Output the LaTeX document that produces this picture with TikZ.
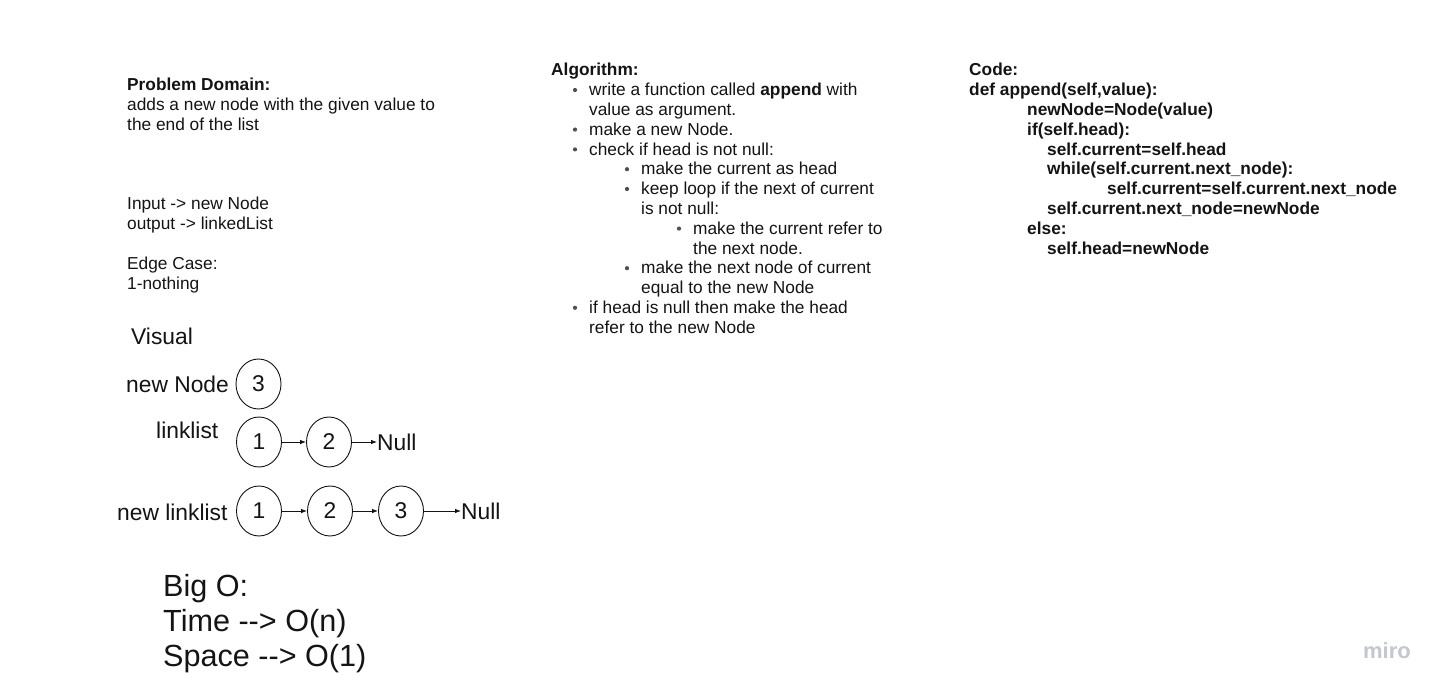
\documentclass[tikz,border=0pt]{standalone}
\usepackage{fontspec}
\setmainfont{Liberation Sans}
\usetikzlibrary{shapes.geometric,arrows.meta}
\definecolor{ink}{rgb}{0.08,0.08,0.08}
\definecolor{mirogray}{RGB}{196,198,208}
\tikzset{
  txt/.style={inner sep=0pt, anchor=base west, text=ink, font=\fontsize{17.3}{19.8}\selectfont},
  btxt/.style={txt, font=\fontsize{17.3}{19.8}\selectfont\bfseries},
  bigtxt/.style={inner sep=0pt, anchor=base west, text=ink, font=\fontsize{22.8}{26}\selectfont},
  hugetxt/.style={inner sep=0pt, anchor=base west, text=ink, font=\fontsize{30.6}{35}\selectfont},
  circ/.style={ellipse, draw=ink, line width=0.9pt, minimum width=45pt, minimum height=50pt, inner sep=0pt, text=ink, font=\fontsize{22.8}{26}\selectfont},
  nulltxt/.style={inner sep=0pt, anchor=west, text=ink, font=\fontsize{22.8}{26}\selectfont},
  arr/.style={draw=ink, line width=0.8pt, -{Latex[length=6pt,width=4.5pt]}},
  bul/.style={circle, fill=ink!75, draw=none, inner sep=0pt, minimum size=4.2pt, yshift=5.8pt}
}
\begin{document}
\begin{tikzpicture}[x=1pt,y=-1pt]
\useasboundingbox (0,0) rectangle (1443,692);
\fill[white] (0,0) rectangle (1443,692);

% Problem domain
\node[btxt] (pd) at (127,91) {Problem Domain:};
\node[txt] (pd1) at (127,111) {adds a new node with the given value to};
\node[txt] (pd2) at (127,131) {the end of the list};
\node[txt] (in) at (127,210) {Input -{}> new Node};
\node[txt] (out) at (127,230) {output -{}> linkedList};
\node[txt] (ec) at (127,270) {Edge Case:};
\node[txt] (ec1) at (127,290) {1-nothing};

% Visual
\node[bigtxt] (vis) at (131,345) {Visual};
\node[bigtxt] (lnn) at (126,392) {new Node};
\node[circ] (n3) at (258.5,384) {3};
\node[bigtxt] (lll) at (156,438) {linklist};
\node[circ] (a1) at (259,442) {1};
\node[circ] (a2) at (329,442) {2};
\node[nulltxt] (anull) at (377,442) {Null};
\draw[arr] (a1) -- (a2);
\draw[arr] (a2) -- (anull.west);
\node[bigtxt] (lnl) at (117,520) {new linklist};
\node[circ] (b1) at (259,511) {1};
\node[circ] (b2) at (330,511) {2};
\node[circ] (b3) at (401,511) {3};
\node[nulltxt] (bnull) at (461,511) {Null};
\draw[arr] (b1) -- (b2);
\draw[arr] (b2) -- (b3);
\draw[arr] (b3) -- (bnull.west);

% Big O
\node[hugetxt] (bo) at (163,596) {Big O:};
\node[hugetxt] (bot) at (163,631) {Time -{}-{}> O(n)};
\node[hugetxt] (bos) at (163,666) {Space -{}-{}> O(1)};

% Algorithm
\node[btxt] (alg) at (551,76) {Algorithm:};
\node[bul] (g1b) at (575,95.8) {};
\node[txt] (g1) at (589,95.8) {write a function called \textbf{append} with};
\node[txt] (g2) at (589,115.6) {value as argument.};
\node[bul] (g3b) at (575,135.4) {};
\node[txt] (g3) at (589,135.4) {make a new Node.};
\node[bul] (g4b) at (575,155.2) {};
\node[txt] (g4) at (589,155.2) {check if head is not null:};
\node[bul] (g5b) at (627,175) {};
\node[txt] (g5) at (641,175) {make the current as head};
\node[bul] (g6b) at (627,194.8) {};
\node[txt] (g6) at (641,194.8) {keep loop if the next of current};
\node[txt] (g7) at (641,214.6) {is not null:};
\node[bul] (g8b) at (679,234.4) {};
\node[txt] (g8) at (693,234.4) {make the current refer to};
\node[txt] (g9) at (693,254.2) {the next node.};
\node[bul] (g10b) at (627,274) {};
\node[txt] (g10) at (641,274) {make the next node of current};
\node[txt] (g11) at (641,293.8) {equal to the new Node};
\node[bul] (g12b) at (575,313.6) {};
\node[txt] (g12) at (589,313.6) {if head is null then make the head};
\node[txt] (g13) at (589,333.4) {refer to the new Node};

% Code
\node[btxt] (c0) at (969,76) {Code:};
\node[btxt] (c1) at (969,95.8) {def append(self,value):};
\node[btxt] (c2) at (1027,115.6) {newNode=Node(value)};
\node[btxt] (c3) at (1027,135.4) {if(self.head):};
\node[btxt] (c4) at (1047,155.2) {self.current=self.head};
\node[btxt] (c5) at (1047,175) {while(self.current.next\_node):};
\node[btxt] (c6) at (1107,194.8) {self.current=self.current.next\_node};
\node[btxt] (c7) at (1047,214.6) {self.current.next\_node=newNode};
\node[btxt] (c8) at (1027,234.4) {else:};
\node[btxt] (c9) at (1047,254.2) {self.head=newNode};

% logo
\node[inner sep=0pt, text=mirogray, font=\fontsize{22}{24}\selectfont\bfseries] (miro) at (1387,651) {miro};
\end{tikzpicture}
\end{document}
